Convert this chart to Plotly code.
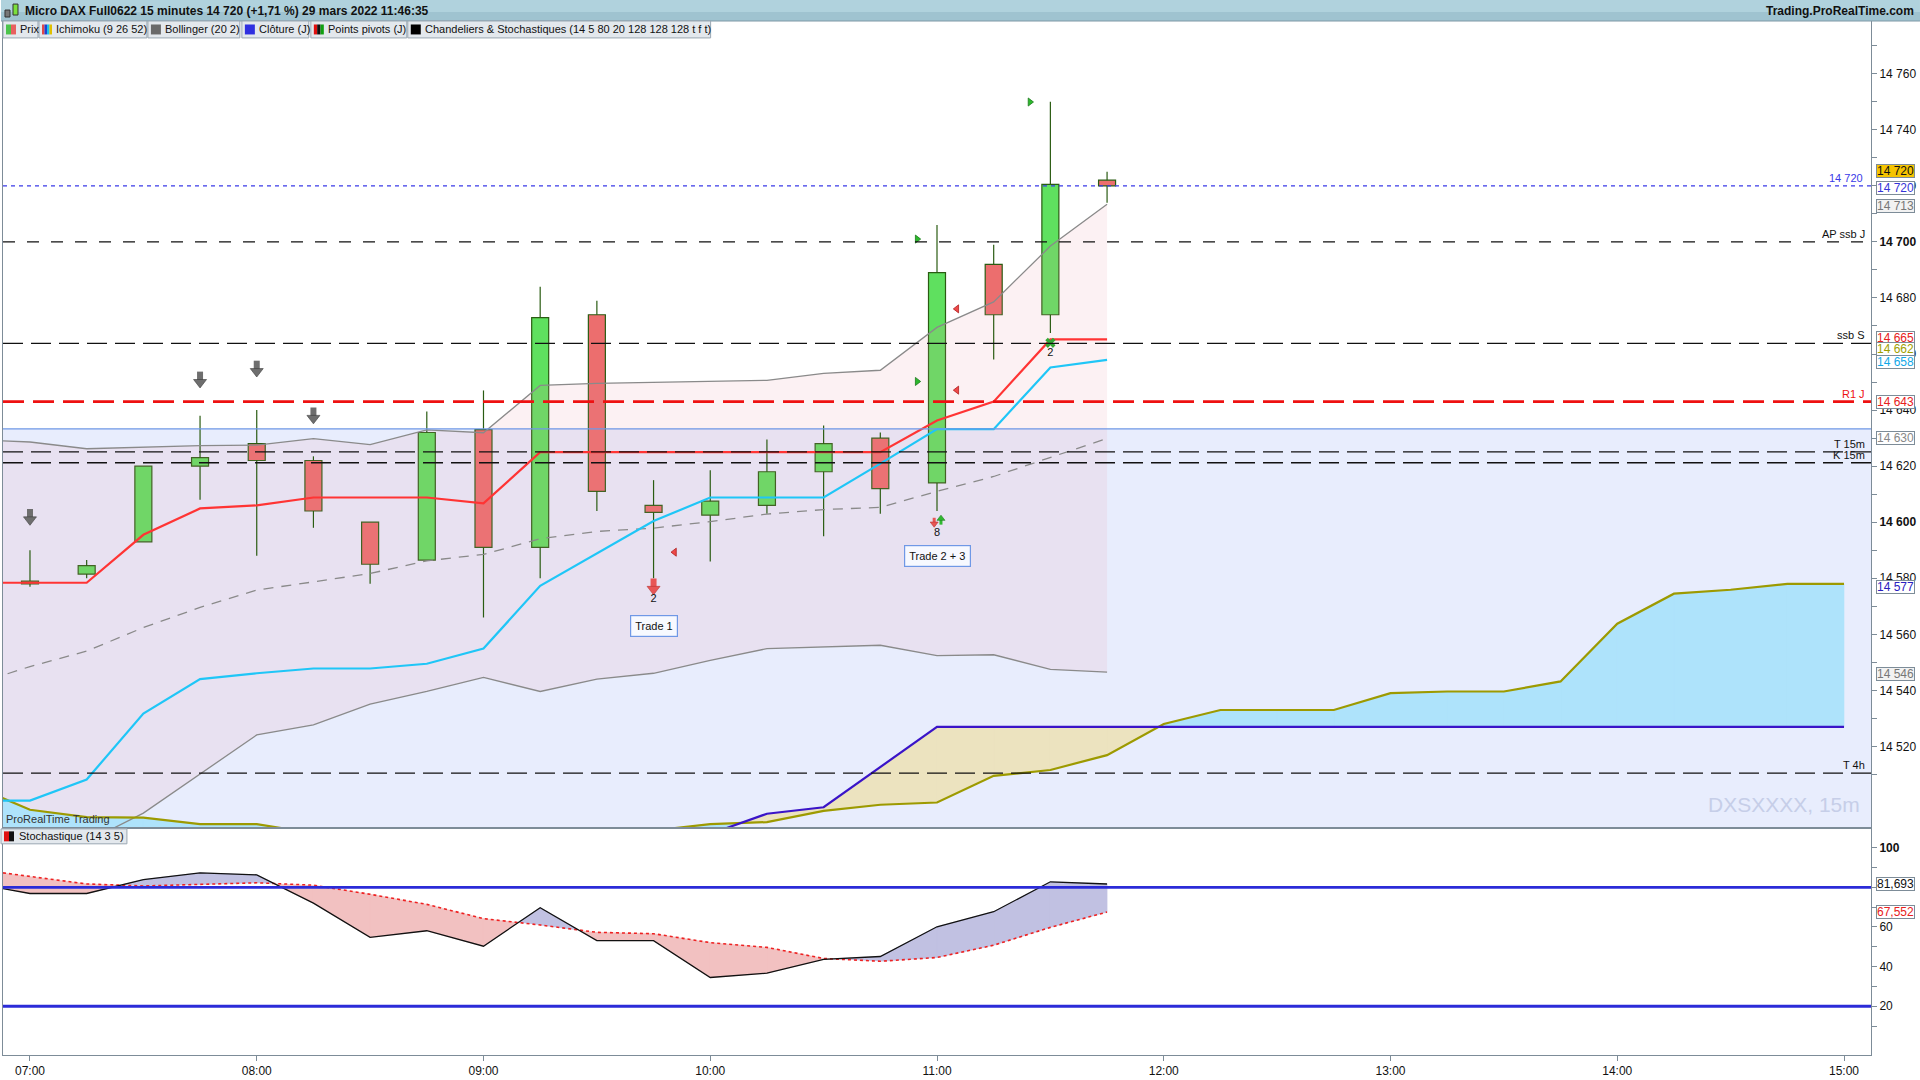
import plotly.graph_objects as go
import pandas as pd

# ---- data (15 min bars, 29 mars 2022) ----
t0 = pd.Timestamp("2022-03-29 07:00")

# candles, index 0 = 07:00
opn = [14579, 14581.5, 14593, 14620, 14628, 14622, 14600, 14586.5, 14633, 14591,
       14674, 14606, 14602.5, 14606, 14618, 14630, 14614, 14692, 14674, 14722]
high = [14590, 14586.5, 14620, 14638, 14640, 14623.5, 14600, 14639.5, 14647, 14684,
        14679, 14615, 14618.5, 14629.5, 14634.5, 14632, 14706, 14699, 14750, 14725]
low = [14577, 14580, 14593, 14608, 14588, 14598, 14578, 14586.5, 14566, 14580,
       14604, 14580, 14586, 14603, 14595, 14603, 14604, 14658, 14667.5, 14714]
close = [14578, 14584.5, 14620, 14623, 14622, 14604, 14585, 14632, 14591, 14673,
         14611, 14603.5, 14607.5, 14618, 14628, 14612, 14689, 14674, 14720.5, 14720]

# indicators, index -1 (06:45) .. 19 (11:45)
ind_idx = list(range(-1, 20))
tenkan = [14578.4, 14578.4, 14578.4, 14595.5, 14604.9, 14606, 14608.8, 14608.8, 14608.8, 14606.7,
          14625, 14625, 14625, 14625, 14625, 14625, 14625, 14636.3, 14643, 14665.2, 14665.2]
kijun = [14500.7, 14500.7, 14508.2, 14531.7, 14544, 14546.1, 14547.8, 14547.8, 14549.5, 14554.9,
         14577.3, 14589, 14600.4, 14608.8, 14608.8, 14608.8, 14620.9, 14633.2, 14633.2, 14655.2, 14657.9]
bb_up = [14629.5, 14628.6, 14626.2, 14626.8, 14627.3, 14627.5, 14629.8, 14627.7, 14632.9, 14631.9,
         14648.8, 14649.5, 14649.9, 14650.1, 14650.6, 14653.1, 14654.2, 14669.5, 14678.6, 14698.5, 14713.4]
bb_mid = [14542, 14548.5, 14554, 14562.4, 14569.6, 14575.8, 14578.7, 14581.7, 14586.2, 14588.5,
          14594.1, 14596.7, 14597.9, 14600.2, 14602.9, 14604.5, 14605.3, 14611, 14616.3, 14623, 14629.9]
bb_lo = [14450, 14468, 14486, 14496.2, 14510.2, 14524.1, 14527.7, 14535.1, 14539.6, 14544.6,
         14539.6, 14544, 14546.1, 14550.7, 14554.9, 14555.4, 14556.1, 14552.4, 14552.7, 14547.5, 14546.5]
stoch_k = [82.1, 76.9, 76.9, 83.9, 87.3, 86.3, 72.0, 54.8, 58.1, 50.3, 69.7,
           53.1, 53.1, 34.5, 36.7, 43.7, 45.1, 60.1, 67.7, 82.8, 81.693]
stoch_d = [89.3, 85.4, 81.7, 80.7, 81.4, 82.3, 81.1, 76.5, 71.4, 64.2, 61.0,
           57.3, 56.6, 52.1, 49.7, 44.1, 42.7, 44.6, 50.8, 59.8, 67.552]

# ichimoku cloud (projected 26 bars), index -1 .. 32
cloud_idx = list(range(-1, 33))
ssa = [14506, 14497.4, 14494.8, 14494.6, 14492.3, 14492.3, 14489, 14486, 14485, 14484, 14484,
       14486, 14490, 14492.3, 14493, 14497, 14499.2, 14500, 14509.5, 14511.6, 14516.9,
       14528, 14533, 14533, 14533, 14539, 14539.6, 14539.6, 14543.2, 14563.8, 14574.5,
       14575.9, 14578, 14578]
ssb = [14470] * 13 + [14488.8, 14496, 14498.3, 14512.5] + [14527] * 17

close_prev_day = 14633.3
last_price = 14720
levels = ["AP ssb J", "ssb S", "R1 J", "T 15m", "K 15m", "T 4h"]
level_vals = [14700, 14663.8, 14643, 14625.1, 14621.2, 14510.5]

# signals
gray_arrow_idx = [0, 3, 4, 5]
gray_arrow_tip = [14598.9, 14647.9, 14651.8, 14635.1]
sell_idx = [11, 15.95]
sell_tip = [14574.1, 14598.2]
buy_idx = [16.07]
buy_tip = [14602.5]
tri_green_idx = [17.64, 15.65, 15.65]
tri_green_val = [14749.9, 14701, 14650.2]
tri_red_idx = [16.35, 16.35, 11.37]
tri_red_val = [14676.1, 14647.1, 14589.3]
num_txt = ["2", "8", "2"]
num_idx = [11, 16, 18]
num_val = [14572.6, 14596.2, 14660.2]
trade_txt = ["Trade 1", "Trade 2 + 3"]
trade_idx = [11, 16]
trade_val = [14562.9, 14588]

FONT = "Liberation Sans, Arial, sans-serif"
W, H = 1920, 1080
ML, MR, MT, MB = 2, 49, 21, 21
PW, PH = W - ML - MR, H - MT - MB
ymin, ymax = 14491.3, 14778.8
PPP = (ymax - ymin) / 809  # price per pixel in the main panel


def ts(i):
    return t0 + pd.Timedelta(minutes=15 * i)


def px_x(p):
    return (p - ML) / PW


def px_y(p):
    return 1 - (p - MT) / PH


def split_band(idx, a, b):
    up, dn = ([], []), ([], [])
    for k in range(len(idx) - 1):
        x0, x1 = idx[k], idx[k + 1]
        d0, d1 = a[k] - b[k], a[k + 1] - b[k + 1]
        if d0 * d1 < 0:
            t = d0 / (d0 - d1)
            xm = x0 + t * (x1 - x0)
            ym = a[k] + t * (a[k + 1] - a[k])
            parts = [(d0, [x0, xm, x0], [a[k], ym, b[k]]),
                     (d1, [xm, x1, x1], [ym, a[k + 1], b[k + 1]])]
        else:
            parts = [(d0 + d1, [x0, x1, x1, x0], [a[k], a[k + 1], b[k + 1], b[k]])]
        for d, xs, ys in parts:
            tgt = up if d >= 0 else dn
            tgt[0].extend([ts(v) for v in xs] + [None])
            tgt[1].extend(ys + [None])
    return up, dn


def block_arrows(fig, idx, tip, color, edge, head_w, shaft_w, shaft_h, down=True):
    r = head_w / 2.31
    sg = 1 if down else -1
    xs = [ts(i) for i in idx]
    fig.add_trace(go.Scatter(x=xs, y=[p + sg * (1.5 * r + shaft_h / 2 - 0.5) * PPP for p in tip], mode="markers",
                             marker=dict(symbol="line-ns", size=shaft_h, line=dict(color=color, width=shaft_w))))
    fig.add_trace(go.Scatter(x=xs, y=[p + sg * r * PPP for p in tip], mode="markers",
                             marker=dict(symbol="triangle-down" if down else "triangle-up", size=2 * r,
                                         color=color, line=dict(color=edge, width=0.6))))


fig = go.Figure()
tx = [ts(i) for i in ind_idx]
ctx = [ts(i) for i in range(len(opn))]

# bollinger fill
fig.add_trace(go.Scatter(x=tx, y=bb_lo, mode="lines", line=dict(width=0), hoverinfo="skip"))
fig.add_trace(go.Scatter(x=tx, y=bb_up, mode="lines", line=dict(width=0), fill="tonexty",
                         fillcolor="rgba(235,150,160,0.13)", hoverinfo="skip"))

# ichimoku cloud fill
c_up, c_dn = split_band(cloud_idx, ssa, ssb)
fig.add_trace(go.Scatter(x=c_up[0], y=c_up[1], mode="lines", fill="toself", fillcolor="#aee3fb",
                         line=dict(width=0.6, color="#aee3fb"), hoverinfo="skip"))
fig.add_trace(go.Scatter(x=c_dn[0], y=c_dn[1], mode="lines", fill="toself", fillcolor="#ece3bf",
                         line=dict(width=0.6, color="#ece3bf"), hoverinfo="skip"))

# candles
fig.add_trace(go.Bar(
    x=ctx, y=[abs(c - o) for o, c in zip(opn, close)], base=[min(o, c) for o, c in zip(opn, close)],
    width=270000,
    marker=dict(color=["#5fe05f" if c >= o else "#ec6e6e" for o, c in zip(opn, close)],
                line=dict(color="#2a5c12", width=1.2)),
    hoverinfo="skip"))
wx, wy = [], []
for t, o, h, l, c in zip(ctx, opn, high, low, close):
    top, bot = max(o, c), min(o, c)
    if h > top:
        wx += [t, t, None]
        wy += [top, h, None]
    if l < bot:
        wx += [t, t, None]
        wy += [bot, l, None]
fig.add_trace(go.Scatter(x=wx, y=wy, mode="lines", line=dict(color="#2a5c12", width=1.2), hoverinfo="skip"))

# indicator lines
fig.add_trace(go.Scatter(x=tx, y=bb_up, mode="lines", line=dict(color="#8a8a8a", width=1.3)))
fig.add_trace(go.Scatter(x=tx, y=bb_lo, mode="lines", line=dict(color="#8a8a8a", width=1.3)))
fig.add_trace(go.Scatter(x=tx, y=bb_mid, mode="lines", line=dict(color="#8a8a8a", width=1.3, dash="10px,8px")))
cx = [ts(i) for i in cloud_idx]
fig.add_trace(go.Scatter(x=cx, y=ssa, mode="lines", line=dict(color="#9d9a00", width=2.2)))
fig.add_trace(go.Scatter(x=cx, y=ssb, mode="lines", line=dict(color="#3a14c8", width=2.2)))
fig.add_trace(go.Scatter(x=tx, y=kijun, mode="lines", line=dict(color="#1fc6f7", width=2.2)))
fig.add_trace(go.Scatter(x=tx, y=tenkan, mode="lines", line=dict(color="#ff3434", width=2.2)))

# signal markers
block_arrows(fig, gray_arrow_idx, gray_arrow_tip, "#6e6e6e", "#3a3a3a", 13, 6, 7)
block_arrows(fig, sell_idx[:1], sell_tip[:1], "#e85555", "#b83030", 13, 6, 7)
block_arrows(fig, sell_idx[1:], sell_tip[1:], "#e85555", "#b83030", 8, 3, 4)
block_arrows(fig, buy_idx, buy_tip, "#30b830", "#208020", 8, 3, 4, down=False)
fig.add_trace(go.Scatter(x=[ts(i) for i in tri_green_idx], y=tri_green_val, mode="markers",
                         marker=dict(symbol="triangle-right", size=7, color="#2cb82c",
                                     line=dict(color="#1a7a1a", width=0.8))))
fig.add_trace(go.Scatter(x=[ts(i) for i in tri_red_idx], y=tri_red_val, mode="markers",
                         marker=dict(symbol="triangle-left", size=7, color="#ee4848",
                                     line=dict(color="#b02020", width=0.8))))
fig.add_trace(go.Scatter(x=[ts(18)], y=[14664], mode="markers",
                         marker=dict(symbol="x", size=9, color="#34a834")))
fig.add_trace(go.Scatter(x=[ts(i) for i in num_idx], y=num_val, mode="text", text=num_txt,
                         textfont=dict(family=FONT, size=11, color="#111")))

# stochastic
s_up, s_dn = split_band(ind_idx, stoch_k, stoch_d)
fig.add_trace(go.Scatter(x=s_up[0], y=s_up[1], mode="lines", fill="toself", fillcolor="#c1c1e2",
                         line=dict(width=0.6, color="#c1c1e2"), xaxis="x2", yaxis="y2"))
fig.add_trace(go.Scatter(x=s_dn[0], y=s_dn[1], mode="lines", fill="toself", fillcolor="#f2c1c1",
                         line=dict(width=0.6, color="#f2c1c1"), xaxis="x2", yaxis="y2"))
fig.add_trace(go.Scatter(x=tx, y=stoch_d, mode="lines", line=dict(color="#ee2222", width=1.6, dash="dot"),
                         xaxis="x2", yaxis="y2"))
fig.add_trace(go.Scatter(x=tx, y=stoch_k, mode="lines", line=dict(color="#111111", width=1.3),
                         xaxis="x2", yaxis="y2"))

# ---- shapes ----
shapes = [
    dict(type="rect", xref="x domain", yref="y", x0=0, x1=1, y0=ymin, y1=close_prev_day,
         fillcolor="rgba(110,140,240,0.16)", line=dict(width=0), layer="below"),
    dict(type="line", xref="x domain", yref="y", x0=0, x1=1, y0=close_prev_day, y1=close_prev_day,
         line=dict(color="#6f98e6", width=1.3)),
    dict(type="line", xref="x domain", yref="y", x0=0, x1=1, y0=last_price, y1=last_price,
         line=dict(color="#3a3ae8", width=1.2, dash="4px,4px")),
]
dashes = ["12px,12px", "20px,8px", "21px,9px", "20px,8px", "20px,8px", "20px,8px"]
for name, v, d in zip(levels, level_vals, dashes):
    red = name == "R1 J"
    shapes.append(dict(type="line", xref="x domain", yref="y", x0=0, x1=1, y0=v, y1=v,
                       line=dict(color="#ee1111" if red else "#111111", width=2.6 if red else 1.3, dash=d)))
for v in (80, 20):
    shapes.append(dict(type="line", xref="x2 domain", yref="y2", x0=0, x1=1, y0=v, y1=v,
                       line=dict(color="#2b2bd8", width=2.8)))


def prect(x0, x1, y0, y1, fill, line=None, lw=1):
    return dict(type="rect", xref="paper", yref="paper", x0=px_x(x0), x1=px_x(x1), y0=px_y(y1), y1=px_y(y0),
                fillcolor=fill, line=dict(color=line or fill, width=lw if line else 0))


# header bar
shapes.append(prect(0, W, 0, 21, "#b0d2dd"))
shapes.append(prect(0, W, 12, 21, "#9fc3d0"))
shapes.append(dict(type="line", xref="paper", yref="paper", x0=px_x(0), x1=px_x(W), y0=px_y(21), y1=px_y(21),
                   line=dict(color="#7f98a6", width=1)))
shapes.append(prect(4, 9, 10, 17, "#777", "#333"))
shapes.append(prect(12, 17, 4, 15, "#7be03c", "#333"))


def icon(x, y, cols):
    w = 10 / len(cols)
    return [prect(x + k * w, x + (k + 1) * w, y, y + 10, c) for k, c in enumerate(cols)]


# legend boxes: (left, right, label, icon colours)
legend_items = [
    (2, 37, "Prix", ["#4cc44c", "#e86060"]),
    (38, 146, "Ichimoku (9 26 52)", ["#e04848", "#2040d0", "#18c0f0", "#e0c000"]),
    (147, 239, "Bollinger (20 2)", ["#6a6a6a"]),
    (241, 308, "Clôture (J)", ["#3030e0"]),
    (310, 406, "Points pivots (J)", ["#e01010", "#111111", "#10a010"]),
    (407, 710, "Chandeliers &amp; Stochastiques (14 5 80 20 128 128 128 t f t)", ["#000000"]),
]
ann = []
for x0, x1, txt, cols in legend_items:
    shapes.append(prect(x0, x1, 21, 38, "#e3e8ed", "#9aa7b2"))
    shapes += icon(x0 + 3, 24.5, cols)
    ann.append(dict(xref="paper", yref="paper", x=px_x(x0 + 15), y=px_y(29.5), xanchor="left", yanchor="middle",
                    showarrow=False, text=txt, font=dict(family=FONT, size=11, color="#111")))
shapes.append(prect(0, 126, 832, 847, "#e3e8ed", "#9aa7b2"))
shapes += icon(3, 834.5, ["#e01010", "#111111"])
ann.append(dict(xref="paper", yref="paper", x=px_x(16), y=px_y(839.5), xanchor="left", yanchor="middle",
                showarrow=False, text="Stochastique (14 3 5)", font=dict(family=FONT, size=11, color="#111")))

# ---- annotations ----
ann.append(dict(xref="paper", yref="paper", x=px_x(22), y=px_y(10.5), xanchor="left", yanchor="middle",
                showarrow=False, text="<b>Micro DAX Full0622 15 minutes 14 720 (+1,71 %) 29 mars 2022 11:46:35</b>",
                font=dict(family=FONT, size=12, color="#111")))
ann.append(dict(xref="paper", yref="paper", x=px_x(1916), y=px_y(10.5), xanchor="right", yanchor="middle",
                showarrow=False, text="<b>Trading.ProRealTime.com</b>",
                font=dict(family=FONT, size=12, color="#111")))
ann.append(dict(xref="paper", yref="paper", x=px_x(3), y=px_y(830), xanchor="left", yanchor="bottom",
                showarrow=False, text="ProRealTime Trading", font=dict(family=FONT, size=11, color="#333")))
ann.append(dict(xref="paper", yref="paper", x=px_x(1862), y=px_y(808), xanchor="right", yanchor="middle",
                showarrow=False, text="DXSXXXX, 15m", font=dict(family=FONT, size=21, color="#c6cee8")))

# level labels
for name, v in zip(levels, level_vals):
    ann.append(dict(xref="x domain", yref="y", x=1, y=v, xanchor="right", yanchor="bottom", xshift=-4,
                    showarrow=False, text=name,
                    font=dict(family=FONT, size=11, color="#ee1111" if name == "R1 J" else "#111")))
ann.append(dict(xref="x domain", yref="y", x=1, y=last_price, xanchor="right", yanchor="bottom", xshift=-6,
                showarrow=False, text="14 720", font=dict(family=FONT, size=11, color="#3a3ae8")))

# right axis value boxes
boxes = [
    (14720, "14 720", "#111", "#f6c400", 15, "y"),
    (14720, "14 720", "#3434d8", "#ffffff", -2, "y"),
    (14713, "14 713", "#777", "#f2f2f2", -1, "y"),
    (14665, "14 665", "#e82020", "#ffffff", 2, "y"),
    (14662, "14 662", "#a0a000", "#ffffff", -1, "y"),
    (14658, "14 658", "#10a8e8", "#ffffff", -2, "y"),
    (14643, "14 643", "#e82020", "#ffffff", 0, "y"),
    (14630, "14 630", "#888", "#ffffff", 0, "y"),
    (14577, "14 577", "#2a20c0", "#ffffff", 0, "y"),
    (14546, "14 546", "#777", "#f2f2f2", 0, "y"),
    (stoch_k[-1], "81,693", "#111", "#ffffff", 0, "y2"),
    (stoch_d[-1], "67,552", "#e82020", "#ffffff", 0, "y2"),
]
for v, txt, fc, bg, ys, yr in boxes:
    ann.append(dict(xref="paper", yref=yr, x=1, y=v, xanchor="left", yanchor="middle", xshift=5, yshift=ys,
                    showarrow=False, text=txt, bgcolor=bg, bordercolor="#7d8c98", borderwidth=1, borderpad=0,
                    width=37, height=12, font=dict(family=FONT, size=12, color=fc)))

for txt, i, v in zip(trade_txt, trade_idx, trade_val):
    ann.append(dict(x=ts(i), y=v, xref="x", yref="y", showarrow=False, text=txt, bgcolor="#f7f9ff",
                    bordercolor="#6f98e6", borderwidth=1.2, borderpad=4,
                    font=dict(family=FONT, size=11, color="#111")))

# ---- axes ----
xr = [ts(-0.476), ts(32.476)]
main_ticks = list(range(14520, 14761, 20))
main_text = [f"<b>{v // 1000} {v % 1000:03d}</b>" if v % 100 == 0 else f"{v // 1000} {v % 1000:03d}"
             for v in main_ticks]
axis_col = "#7d8c98"
hours = [ts(4 * h) for h in range(9)]

fig.update_layout(
    width=W, height=H, margin=dict(l=ML, r=MR, t=MT, b=MB),
    paper_bgcolor="white", plot_bgcolor="white", showlegend=False,
    font=dict(family=FONT, size=12, color="#111"),
    barmode="overlay", hovermode=False,
    shapes=shapes, annotations=ann,
    xaxis=dict(domain=[0, 1], anchor="y", range=xr, matches="x2", showticklabels=False, ticks="",
               showgrid=False, zeroline=False, showline=True, mirror=True, linecolor=axis_col),
    yaxis=dict(domain=[px_y(830), 1], anchor="x", side="right", range=[ymin, ymax],
               tickvals=main_ticks, ticktext=main_text, ticks="outside", ticklen=5, tickcolor=axis_col,
               minor=dict(tickvals=list(range(14510, 14780, 10)), ticks="outside", ticklen=5, tickcolor=axis_col),
               showgrid=False, zeroline=False, showline=True, mirror=True, linecolor=axis_col,
               tickfont=dict(size=12, color="#111")),
    xaxis2=dict(domain=[0, 1], anchor="y2", range=xr, type="date", tickvals=hours, tickformat="%H:%M",
                ticks="outside", ticklen=5, tickcolor=axis_col, showgrid=False, zeroline=False,
                showline=True, mirror=True, linecolor=axis_col, tickfont=dict(size=12, color="#111")),
    yaxis2=dict(domain=[0, px_y(832)], anchor="x2", side="right", range=[-4.6, 109.5],
                tickvals=[20, 40, 60, 80, 100], ticktext=["20", "40", "60", "", "<b>100</b>"],
                ticks="outside", ticklen=5, tickcolor=axis_col,
                minor=dict(tickvals=[10, 30, 50, 70, 90], ticks="outside", ticklen=5, tickcolor=axis_col),
                showgrid=False, zeroline=False, showline=True, mirror=True, linecolor=axis_col,
                tickfont=dict(size=12, color="#111")),
)

fig.write_html("out.html", config={"displayModeBar": False},
               post_script="document.body.style.margin='0px';")
